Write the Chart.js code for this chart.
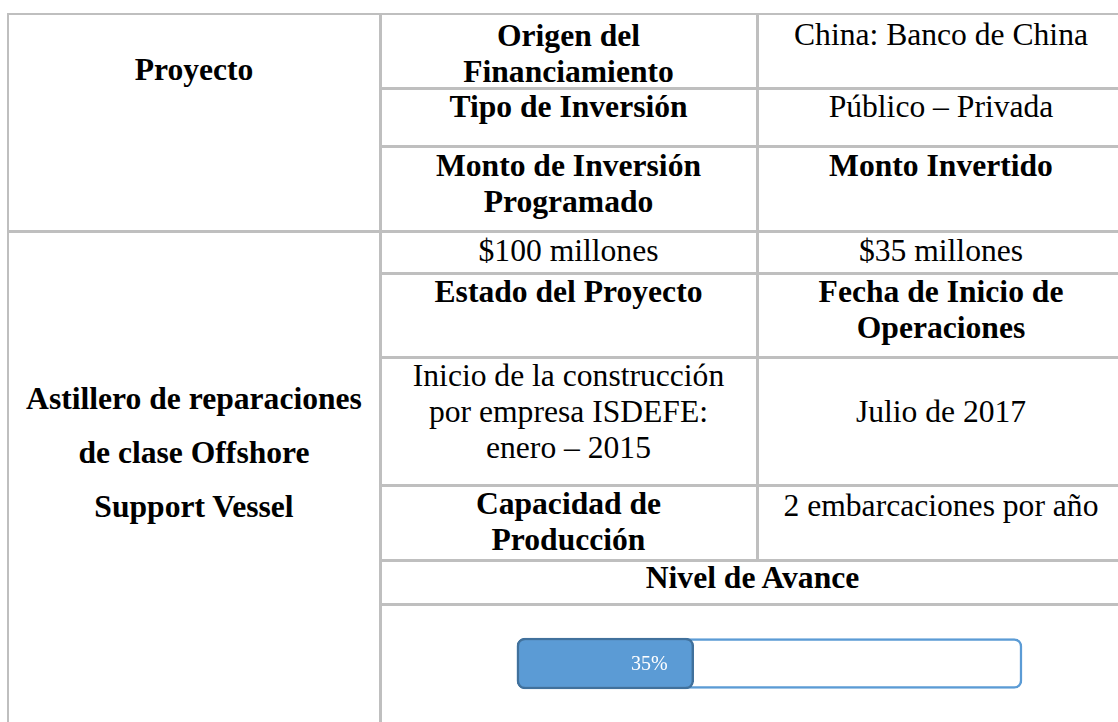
<!DOCTYPE html>
<html lang="es">
<head>
<meta charset="utf-8">
<title>Astillero de reparaciones - Nivel de Avance</title>
<script src="https://cdn.jsdelivr.net/npm/chart.js@4.4.1/dist/chart.umd.min.js"></script>
<style>
  html, body { margin: 0; padding: 0; background: #fff; }
  body { width: 1118px; height: 722px; overflow: hidden; position: relative;
         font-family: "Liberation Serif", "Times New Roman", serif; font-size: 31.6px; color: #000; }
  .cell { position: absolute; box-sizing: border-box; border: 2px solid #bfbfbf; }
  .txt { position: absolute; text-align: center; line-height: 36px; white-space: nowrap; }
  .b { font-weight: bold; }
  #bar { position: absolute; left: 507px; top: 619px; }
</style>
</head>
<body>

<!-- table grid -->
<div class="cell" style="left:7px;top:13px;width:375px;height:220px"></div>
<div class="cell" style="left:7px;top:230px;width:375px;height:600px"></div>

<div class="cell" style="left:379px;top:13px;width:380px;height:77px"></div>
<div class="cell" style="left:379px;top:87px;width:380px;height:61px"></div>
<div class="cell" style="left:379px;top:145px;width:380px;height:88px"></div>
<div class="cell" style="left:379px;top:230px;width:380px;height:45px"></div>
<div class="cell" style="left:379px;top:272px;width:380px;height:87px"></div>
<div class="cell" style="left:379px;top:356px;width:380px;height:131px"></div>
<div class="cell" style="left:379px;top:484px;width:380px;height:78px"></div>

<div class="cell" style="left:756px;top:13px;width:370px;height:77px"></div>
<div class="cell" style="left:756px;top:87px;width:370px;height:61px"></div>
<div class="cell" style="left:756px;top:145px;width:370px;height:88px"></div>
<div class="cell" style="left:756px;top:230px;width:370px;height:45px"></div>
<div class="cell" style="left:756px;top:272px;width:370px;height:87px"></div>
<div class="cell" style="left:756px;top:356px;width:370px;height:131px"></div>
<div class="cell" style="left:756px;top:484px;width:370px;height:78px"></div>

<div class="cell" style="left:379px;top:559px;width:747px;height:47px"></div>
<div class="cell" style="left:379px;top:603px;width:747px;height:300px"></div>

<!-- column 1 -->
<div class="txt b" style="left:8px;width:372px;top:52px">Proyecto</div>
<div class="txt b" style="left:8px;width:372px;top:372px;line-height:54px">Astillero de reparaciones<br>de clase Offshore<br>Support Vessel</div>

<!-- column 2 -->
<div class="txt b" style="left:380px;width:377px;top:18px">Origen del<br>Financiamiento</div>
<div class="txt b" style="left:380px;width:377px;top:89px">Tipo de Inversión</div>
<div class="txt b" style="left:380px;width:377px;top:148px">Monto de Inversión<br>Programado</div>
<div class="txt" style="left:380px;width:377px;top:233px">$100 millones</div>
<div class="txt b" style="left:380px;width:377px;top:274px">Estado del Proyecto</div>
<div class="txt" style="left:380px;width:377px;top:358px">Inicio de la construcción<br>por empresa ISDEFE:<br>enero – 2015</div>
<div class="txt b" style="left:380px;width:377px;top:486px">Capacidad de<br>Producción</div>

<!-- column 3 -->
<div class="txt" style="left:757px;width:368px;top:17px">China: Banco de China</div>
<div class="txt" style="left:757px;width:368px;top:89px">Público – Privada</div>
<div class="txt b" style="left:757px;width:368px;top:148px">Monto Invertido</div>
<div class="txt" style="left:757px;width:368px;top:233px">$35 millones</div>
<div class="txt b" style="left:757px;width:368px;top:274px">Fecha de Inicio de<br>Operaciones</div>
<div class="txt" style="left:757px;width:368px;top:394px">Julio de 2017</div>
<div class="txt" style="left:757px;width:368px;top:488px">2 embarcaciones por año</div>

<div class="txt b" style="left:380px;width:745px;top:560px">Nivel de Avance</div>

<canvas id="bar" width="525" height="89"></canvas>

<script>
const categories = ["Nivel de Avance"];
const avance = [35];
const total = [100];

// texto "35%" dentro de la barra
const labelPlugin = {
  id: "pctLabel",
  afterDatasetsDraw(chart) {
    const ctx = chart.ctx;
    const meta = chart.getDatasetMeta(0);
    meta.data.forEach((bar, i) => {
      ctx.save();
      ctx.font = '20px "Liberation Serif", "Times New Roman", serif';
      ctx.fillStyle = "#ffffff";
      ctx.textAlign = "right";
      ctx.textBaseline = "middle";
      ctx.fillText(avance[i] + "%", bar.x - 26, bar.y + 1);
      ctx.restore();
    });
  }
};

const ctx = document.getElementById("bar").getContext("2d");
new Chart(ctx, {
  type: "bar",
  data: {
    labels: categories,
    datasets: [
      {
        label: "Avance",
        data: avance,
        backgroundColor: "#5b9bd5",
        borderColor: "#41719c",
        borderWidth: 2.5,
        borderRadius: 8,
        borderSkipped: false,
        barThickness: 51,
        grouped: false,
        order: 0,
        clip: false
      },
      {
        label: "Total",
        data: total,
        backgroundColor: "#ffffff",
        borderColor: "#5b9bd5",
        borderWidth: 2.5,
        borderRadius: 8,
        borderSkipped: false,
        barThickness: 50,
        grouped: false,
        order: 1,
        clip: false
      }
    ]
  },
  options: {
    indexAxis: "y",
    responsive: false,
    animation: false,
    layout: { padding: { left: 10, right: 10, top: 0, bottom: 0 } },
    plugins: { legend: { display: false }, tooltip: { enabled: false } },
    scales: {
      x: { display: false, min: 0, max: 100 },
      y: { display: false }
    }
  },
  plugins: [labelPlugin]
});
</script>
</body>
</html>
